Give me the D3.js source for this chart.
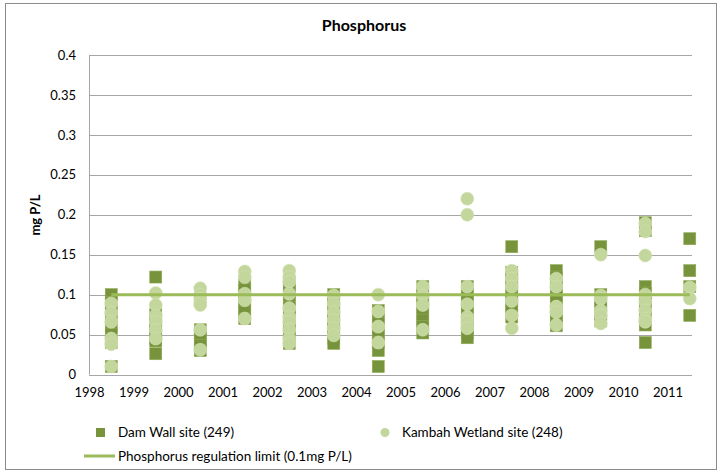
<!DOCTYPE html>
<html>
<head>
<meta charset="utf-8">
<script src="https://cdn.jsdelivr.net/npm/d3@7"></script>
<style>
  body { margin: 0; background: #fff; }
  svg { font-family: Lato, "Open Sans", sans-serif; }
</style>
</head>
<body>
<svg id="chart"></svg>
<script>
// годы измерений (середина года)
const years = [1998.5, 1999.5, 2000.5, 2001.5, 2002.5, 2003.5, 2004.5, 2005.5, 2006.5, 2007.5, 2008.5, 2009.5, 2010.5, 2011.5]

// Dam Wall site (249) - значения по годам
const damWall = [
  [0.1, 0.09, 0.08, 0.07, 0.06, 0.05, 0.04, 0.01],
  [0.122, 0.075, 0.068, 0.06, 0.052, 0.045, 0.042, 0.026],
  [0.056, 0.05, 0.043, 0.036, 0.03],
  [0.113, 0.106, 0.099, 0.092, 0.085, 0.078, 0.07],
  [0.115, 0.108, 0.1, 0.092, 0.084, 0.076, 0.068, 0.06, 0.052, 0.045, 0.039],
  [0.1, 0.092, 0.084, 0.076, 0.068, 0.06, 0.052, 0.045, 0.039],
  [0.08, 0.072, 0.064, 0.056, 0.048, 0.04, 0.03, 0.01],
  [0.11, 0.1, 0.092, 0.084, 0.076, 0.068, 0.06, 0.052],
  [0.11, 0.1, 0.092, 0.084, 0.076, 0.068, 0.06, 0.052, 0.046],
  [0.16, 0.128, 0.12, 0.112, 0.104, 0.096, 0.088, 0.08, 0.072],
  [0.13, 0.122, 0.114, 0.106, 0.098, 0.09, 0.082, 0.074, 0.068, 0.061],
  [0.16, 0.1, 0.092, 0.084, 0.076, 0.067],
  [0.19, 0.18, 0.11, 0.102, 0.094, 0.086, 0.078, 0.07, 0.062, 0.04],
  [0.17, 0.13, 0.11, 0.074]
]

// Kambah Wetland site (248)
const kambah = [
  [0.089, 0.077, 0.066, 0.045, 0.038, 0.01],
  [0.102, 0.087, 0.074, 0.066, 0.056, 0.045],
  [0.108, 0.1, 0.095, 0.09, 0.087, 0.056, 0.031],
  [0.129, 0.122, 0.101, 0.093, 0.07],
  [0.13, 0.122, 0.116, 0.101, 0.083, 0.072, 0.066, 0.056, 0.045, 0.039],
  [0.099, 0.089, 0.078, 0.068, 0.058, 0.049],
  [0.1, 0.079, 0.06, 0.04],
  [0.11, 0.099, 0.087, 0.056],
  [0.22, 0.2, 0.11, 0.088, 0.072, 0.066, 0.058],
  [0.13, 0.12, 0.11, 0.092, 0.074, 0.058],
  [0.12, 0.11, 0.085, 0.078, 0.062],
  [0.15, 0.099, 0.095, 0.08, 0.074, 0.064],
  [0.189, 0.179, 0.149, 0.1, 0.091, 0.08, 0.07, 0.066],
  [0.109, 0.095]
]

// предел регулирования фосфора
const limitValue = 0.1
const limitYears = [1998.5, 2011.5]

const xTicks = d3.range(1998, 2012)
const yTicks = [0, 0.05, 0.1, 0.15, 0.2, 0.25, 0.3, 0.35, 0.4]

const legendLabels = ['Dam Wall site (249)', 'Kambah Wetland site (248)', 'Phosphorus regulation limit (0.1mg P/L)']
const colorDam = '#77933C'
const colorKambah = '#C3D69B'
const colorLine = '#9BBB59'

const width = 721
const height = 474
const plot = { left: 89, right: 692, top: 55, bottom: 374.5 }

const svg = d3.select('#chart').attr('width', width).attr('height', height)

// рамка диаграммы
svg.append('rect')
  .attr('x', 5.5).attr('y', 3.5)
  .attr('width', 711).attr('height', 466)
  .attr('fill', '#fff').attr('stroke', '#8c8c8c')

const scX = d3.scaleLinear().domain([1998, 2011.55]).range([plot.left, plot.right])
const scY = d3.scaleLinear().domain([0, 0.4]).range([plot.bottom, plot.top])

// сетка
svg.append('g')
  .selectAll('line')
  .data(yTicks)
  .enter()
  .append('line')
  .attr('x1', plot.left).attr('x2', plot.right)
  .attr('y1', d => Math.round(scY(d)) + 0.5).attr('y2', d => Math.round(scY(d)) + 0.5)
  .attr('stroke', '#a6a6a6')

// ось Y
svg.append('line')
  .attr('x1', plot.left + 0.5).attr('x2', plot.left + 0.5)
  .attr('y1', plot.top).attr('y2', plot.bottom)
  .attr('stroke', '#a6a6a6')

let axisY = d3.axisLeft(scY).tickValues(yTicks).tickSize(0).tickPadding(13).tickFormat(d => String(d))
let gY = svg.append('g').attr('transform', `translate(${plot.left}, 0)`).call(axisY)
gY.select('.domain').remove()
gY.selectAll('text').style('font-size', '13px').style('fill', '#000').style('font-family', 'Lato, sans-serif')

let axisX = d3.axisBottom(scX).tickValues(xTicks).tickSize(0).tickPadding(13).tickFormat(d3.format('d'))
let gX = svg.append('g').attr('transform', `translate(0, ${plot.bottom})`).call(axisX)
gX.select('.domain').remove()
gX.selectAll('text').style('font-size', '13px').style('fill', '#000').style('font-family', 'Lato, sans-serif')

const sq = 12
const r = 6.5

// точки Dam Wall (квадраты)
const damPoints = []
years.forEach((y, i) => damWall[i].forEach(v => damPoints.push({ x: y, v })))
svg.append('g')
  .selectAll('rect')
  .data(damPoints)
  .enter()
  .append('rect')
  .attr('x', d => scX(d.x) - sq / 2)
  .attr('y', d => scY(d.v) - sq / 2)
  .attr('width', sq).attr('height', sq)
  .attr('fill', colorDam)
  .attr('stroke', '#8fab55').attr('stroke-width', 0.6)

// точки Kambah (круги)
const kambahPoints = []
years.forEach((y, i) => kambah[i].forEach(v => kambahPoints.push({ x: y, v })))
svg.append('g')
  .selectAll('circle')
  .data(kambahPoints)
  .enter()
  .append('circle')
  .attr('cx', d => scX(d.x))
  .attr('cy', d => scY(d.v))
  .attr('r', r)
  .attr('fill', colorKambah)
  .attr('stroke', '#d3e1b5').attr('stroke-width', 0.6)

// линия предела
svg.append('line')
  .attr('x1', scX(limitYears[0])).attr('x2', scX(limitYears[1]))
  .attr('y1', scY(limitValue)).attr('y2', scY(limitValue))
  .attr('stroke', colorLine).attr('stroke-width', 3)

// заголовок
svg.append('text')
  .attr('x', 364).attr('y', 31)
  .attr('text-anchor', 'middle')
  .style('font-size', '16px').style('font-weight', 'bold')
  .text('Phosphorus')

svg.append('text')
  .attr('transform', 'translate(40, 215) rotate(-90)')
  .attr('text-anchor', 'middle')
  .style('font-size', '13px').style('font-weight', 'bold')
  .text('mg P/L')

// легенда
const leg = svg.append('g').style('font-size', '13.5px')
leg.append('rect').attr('x', 96).attr('y', 428).attr('width', 9).attr('height', 9).attr('fill', colorDam)
leg.append('text').attr('x', 118).attr('y', 437).text(legendLabels[0])
leg.append('circle').attr('cx', 385).attr('cy', 432.5).attr('r', 4.5).attr('fill', colorKambah)
leg.append('text').attr('x', 402).attr('y', 437).text(legendLabels[1])
leg.append('line').attr('x1', 84).attr('x2', 115).attr('y1', 456).attr('y2', 456)
  .attr('stroke', colorLine).attr('stroke-width', 3)
leg.append('text').attr('x', 118).attr('y', 461).text(legendLabels[2])
</script>
</body>
</html>
